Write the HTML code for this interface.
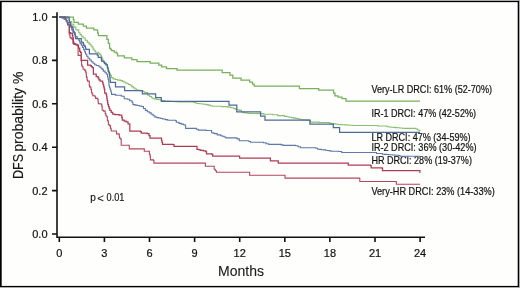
<!DOCTYPE html>
<html><head><meta charset="utf-8">
<style>
html,body{margin:0;padding:0;background:#aaa;width:520px;height:288px;overflow:hidden}
svg{display:block;will-change:transform;font-family:"Liberation Sans",sans-serif}
</style></head>
<body>
<svg width="520" height="288" viewBox="0 0 520 288">
<rect x="0" y="0" width="520" height="288" fill="#aaa"/><rect x="0" y="1" width="519" height="286" fill="#000"/><rect x="1.7" y="2.15" width="516" height="283.75" fill="#fefefd"/>
<g stroke="#111" stroke-width="1.6" fill="none">
<path d="M57 12.3V237.2H425"/>
<path d="M52 17H57M52 60.4H57M52 103.8H57M52 147.2H57M52 190.6H57M52 234H57"/>
<path d="M59.3 237V242M104.4 237V242M149.5 237V242M194.6 237V242M239.7 237V242M284.8 237V242M329.9 237V242M375 237V242M420.1 237V242"/>
</g>
<g font-size="11" fill="#111" stroke="#111" stroke-width="0.2" text-anchor="end">
<text x="47.5" y="21">1.0</text>
<text x="47.5" y="64.4">0.8</text>
<text x="47.5" y="107.8">0.6</text>
<text x="47.5" y="151.2">0.4</text>
<text x="47.5" y="194.6">0.2</text>
<text x="47.5" y="238">0.0</text>
</g>
<g font-size="11" fill="#111" stroke="#111" stroke-width="0.2" text-anchor="middle">
<text x="59.3" y="256.5">0</text>
<text x="104.4" y="256.5">3</text>
<text x="149.5" y="256.5">6</text>
<text x="194.6" y="256.5">9</text>
<text x="239.7" y="256.5">12</text>
<text x="284.8" y="256.5">15</text>
<text x="329.9" y="256.5">18</text>
<text x="375" y="256.5">21</text>
<text x="420.1" y="256.5">24</text>
</g>
<text x="241" y="276.2" font-size="14" fill="#1a1a1a" stroke="#1a1a1a" stroke-width="0.1" text-anchor="middle">Months</text>
<g transform="translate(23.3,0) rotate(-90)" font-size="15.5" fill="#1a1a1a" stroke="#1a1a1a" stroke-width="0.15"><text x="-178.9" y="0" textLength="24.9" lengthAdjust="spacingAndGlyphs">DFS</text><text x="-151.7" y="0" textLength="80" lengthAdjust="spacingAndGlyphs">probability %</text></g>
<g fill="#111" stroke="#111" stroke-width="0.15"><text x="90.3" y="201.3" font-size="10">p</text><text x="97.3" y="201.9" font-size="11.5" stroke-width="0.05" textLength="6.6" lengthAdjust="spacingAndGlyphs">&lt;</text><text x="106.6" y="201.3" font-size="10" textLength="17.8" lengthAdjust="spacingAndGlyphs">0.01</text></g>
<g font-size="10.4" fill="#111" stroke="#111" stroke-width="0.2">
<text x="371.4" y="93.2" textLength="120.6" lengthAdjust="spacingAndGlyphs">Very-LR DRCI: 61% (52-70%)</text>
<text x="371.4" y="117.2" textLength="104.6" lengthAdjust="spacingAndGlyphs">IR-1 DRCI: 47% (42-52%)</text>
<text x="371.4" y="141.3" textLength="99.2" lengthAdjust="spacingAndGlyphs">LR DRCI: 47% (34-59%)</text>
<text x="371.4" y="151.2" textLength="105.1" lengthAdjust="spacingAndGlyphs">IR-2 DRCI: 36% (30-42%)</text>
<text x="371.4" y="164.2" textLength="100.5" lengthAdjust="spacingAndGlyphs">HR DRCI: 28% (19-37%)</text>
<text x="371.4" y="195.3" textLength="123.4" lengthAdjust="spacingAndGlyphs">Very-HR DRCI: 23% (14-33%)</text>
</g>
<g fill="none" stroke-linejoin="miter" stroke-linecap="butt">
<path stroke="#78b05a" stroke-width="1.25" d="M59.1 17.0H73.4V19.5H74.0V22.4H78.3V24.0H83.3V26.1H86.4V28.2H93.8V29.8H97.6V33.2H98.4V35.5H106.9V39.3H108.3V43.3H109.6V48.4H110.8V49.5H111.6V50.5H114.2V52.2H116.3V53.2H117.5V55.8H124.4V57.8H131.8V59.6H137.0V61.5H150.2V63.0H158.8V65.0H161.7V66.8H166.5V68.7H177.0V70.2H222.2V72.7H229.9V75.0H232.8V78.1H241.0V80.2H249.7V82.1H252.5V84.0H254.2V86.0H299.4V88.5H318.7V90.2H333.6V93.1H335.0V95.8H338.0V97.2H342.0V98.6H346.0V101.2H420.0"/>
<path stroke="#8ac070" stroke-width="1.1" d="M59.1 17.0H66.5H67.6V18.8H69.6V21.6H71.7V24.3H73.8V27.1H75.9V29.9H78.7V32.7H80.0V34.6H81.5V36.3H83.0V38.0H85.2V40.2H87.4V42.4H89.1V44.1H90.8V45.8H91.9V46.9H93.0V49.1H94.1V50.8H95.5V52.2H98.3V53.3H99.7V54.4H100.8V55.6H101.3V57.2H102.2V59.4H103.0V61.1H103.6V62.8H105.8V65.0H107.6V67.6H108.3V70.0H108.8V71.8H109.2V73.7H110.3V75.3H111.4V77.6H113.1V78.9H115.3V79.5H117.6V80.1H120.8V80.6H122.4V81.4H124.0V82.2H125.5V83.0H127.1V83.8H128.6V84.5H130.2V85.3H131.8V86.6H133.3V87.9H134.9V89.0H136.5V90.0H138.2V90.3H140.0V90.7H141.7V91.0H143.2V91.8H144.8V92.6H147.7V95.2H149.6V96.5H151.5V97.7H153.0V98.8H154.9V99.1H156.9V99.5H158.8V99.8H160.7V100.2H162.7V100.6H164.6V101.0H166.5V101.1H168.4V101.2H170.4V101.4H172.3V101.5H174.2V101.6H176.2V101.8H178.1V101.9H180.0V102.0H193.8V102.5H195.4V103.0H197.0V103.5H199.2V103.8H201.5V104.0H203.8V104.3H206.0V104.6H208.1V105.1H210.2V105.7H212.3V106.2H221.5V106.6H227.7V107.1H230.8V107.7H233.8V108.6H235.4V109.2H237.0V109.7H239.0V110.4H241.5V112.3H243.4V112.6H245.3V112.9H247.3V113.2H249.2V113.5H256.9V113.6H263.8V114.2H272.5V114.7H277.7V115.6H284.6V116.4H286.9V116.8H289.2V117.2H291.5V117.6H293.8V118.1H296.1V118.5H298.4V119.0H300.1V119.5H301.9V119.9H308.8V120.4H310.6V122.1H319.2V122.5H329.6V123.2H331.7V123.6H333.9V123.9H336.0V124.3H338.1V124.5H340.2V124.6H342.4V124.8H344.5V124.9H346.6V125.0H348.8V125.2H350.9V125.3H353.0V125.5H378.0V126.0H387.0V126.8H389.1V127.0H391.2V127.2H393.4V127.4H395.5V127.6H397.6V127.8H399.8V128.0H401.9V128.2H404.0V128.4H416.0V129.0H417.5V129.8H419.0V130.7H420.0V131.0"/>
<path stroke="#b2465f" stroke-width="1.1" d="M59.1 17.0H65.0V19.0H66.4V21.1H67.3V22.8H67.8V24.8H69.3V35.0H70.1V37.6H71.2V38.7H72.3V39.4H73.0V43.5H75.5V44.8H77.2V45.6H78.1V55.4H81.2V61.2H81.6V65.1H82.1V66.8H83.1V69.3H84.8V70.4H85.6V72.1H86.2V74.3H86.4V77.1H87.1V80.0H87.6V81.1H89.3V81.7V85.6H89.6V86.9H90.7V87.5H90.9V89.4H91.5V92.8H92.2V94.0H92.8V95.7H95.0V96.8H95.6V98.4H97.8V99.6H98.1V101.8H98.3V103.7H101.1V104.3H101.7V106.2H102.2V110.2H103.6V111.1H104.9V111.3H105.2V113.6H105.8V115.2H106.3V116.3H107.2V117.4H107.4V120.8H108.3V122.4H108.4V124.8H109.6V125.6H110.4V128.1H110.9V128.7H111.2V131.0H116.5V133.9H119.0V134.2H119.3V136.0H119.6V138.2H120.7V139.3H121.2V141.0V145.3H129.3V148.9H144.3V151.2H149.0H149.4V154.3H150.1V156.4H150.4V159.9H153.5V160.6H153.9V163.1H205.4V166.2H213.8H214.2V169.2H215.3V170.8H216.5V172.3H249.0H249.6V175.3H284.5H285.0V178.1H359.3V178.3H359.8V181.5H396.0V181.7H396.4V184.3H420.0"/>
<path stroke="#ad3c57" stroke-width="1.25" d="M59.1 17.0H65.0V19.0H66.4V21.1H67.3V22.8H67.8V24.8H69.3V32.5H70.5V33.4H72.4V35.3H72.8V37.5H73.3V42.0H73.9V44.3H77.2V45.0H78.5V48.0H79.7V51.4H80.6V52.6H81.3V60.4H87.6V65.2H90.4V65.6H91.3V66.5H92.3V67.7H93.4V74.0H96.2V76.6H98.1V78.2H98.9V79.9H100.2V81.0H102.1V81.1H102.6V82.9H103.1V84.8H103.7V86.9H104.2V89.0H104.7V93.1H106.2V94.7H106.6V96.7H106.9V98.7H107.2V100.6H107.6V102.6H107.9V104.6H108.5V106.5H109.2V108.5H109.8V110.4H111.2V112.3H112.7V114.2H114.8V114.5H117.0V114.7H119.2V115.0H121.3V115.2H121.8V117.6H122.3V120.0H124.2V121.0H126.2V121.9H128.0V123.8H129.8V125.8V131.2H140.4V131.7H141.3V133.1H147.1V133.7H149.0V135.6H150.0V138.1H159.6H161.5V140.4H162.0V142.4H162.5V144.4H173.1V144.6H174.0V146.3H196.2H197.0V149.4H198.9V149.9H200.8V150.4H203.3V150.9H205.8V151.5H206.5V153.8H211.9V154.3H212.7V156.2H239.2H239.6V158.2H269.8H270.4V160.8H277.5H278.3V163.0H347.8H348.3V165.2H370.6V165.5H371.2V167.8H382.0V168.0H382.5V170.5H419.4V170.6H419.9V173.0"/>
<path stroke="#5f7aa8" stroke-width="1.1" d="M59.1 17.0H61.5H62.0V18.1H64.1V19.5H66.2V20.9H67.6V22.6H68.9V24.3H70.3V27.1H71.7V29.9H73.1V32.7H74.5V34.8H75.5V36.6H77.2V38.8H78.9V40.4H79.6V42.0H80.2V43.6H81.3V45.2H82.4V47.4H83.6V49.7H84.7V51.9H85.5V54.0H86.7V56.3H88.0V58.3H89.7V60.0H91.3V61.7H93.0V63.3H94.7V64.7H96.3V65.5H99.0V66.7H100.0V67.2H101.1V68.3H102.2V69.4H103.3V71.1H105.0V72.8H106.4V74.2H107.6V77.0H108.1V79.2H108.7V82.0H109.0V86.0H109.6V87.7H110.1V89.3H110.7V91.0H111.2V92.7H111.5V94.4H115.1V94.6H115.7V95.3H120.1H121.2V96.0H122.0V96.3H124.2V98.8H127.2V99.2H129.6V100.7H132.0V102.2H132.9V104.6H135.1V105.1H137.2V105.5H139.3V106.0H141.5V106.5H143.4V108.5H145.4V110.4H147.3V111.7H149.3V112.9H151.2V114.2H153.1V115.7H155.0V117.1H156.9V117.6H158.8V118.0H160.8V118.5H162.7V119.0H165.2V119.6H167.7V120.2H175.7V120.6H176.3V122.3H179.0V123.4H181.2V124.1H183.5V124.8H185.2V125.8H185.6V128.4H193.8H196.4V129.2H198.2V130.1H206.0V130.5H211.3V130.6H211.6V132.7H213.1V133.1H214.6V133.6H217.2V134.9H220.7V135.7H222.4V136.3H224.1V137.0H225.8V137.9H235.0H237.1V138.9H239.3V140.7H247.1H248.8V141.5H250.5V142.2H260.9H263.5V142.8H266.1V143.7H268.7V144.4H279.2H281.1V144.9H283.1V145.4H295.6V145.8H298.0V146.8H300.4V147.7H315.8V148.3H317.7V149.2H319.6V149.4H321.5V149.7H323.5V149.9H325.4V150.2H327.3V150.5H329.3V150.9H331.2V151.2H338.8V151.5H341.7V152.5H373.9H376.5V153.5H382.5V154.2H384.6V154.4H386.6V154.5H388.7V154.7H390.8V154.8H392.8V155.0H394.9V155.2H396.9V155.3H399.0V155.5H400.0V156.2H420.0"/>
<path stroke="#4e6a98" stroke-width="1.25" d="M59.1 17.0H68.8H69.1V20.3H69.3V22.3H70.3V25.0H71.1V26.0H72.2V27.7H73.0V29.9H73.3V31.6H74.2V32.7H75.0V34.3H75.3V36.6H75.6V38.5H81.3V42.0H82.7V42.6H83.3V43.8H83.7V45.4H84.7V46.4H85.5V48.0H85.8V49.4H89.4V53.8H97.3V55.0H98.2V57.3H101.4V60.2H101.8V61.4H104.1V62.2H104.6V63.6H106.1V64.6H107.2V66.3H107.5V68.3H108.1V71.1H108.9V72.6H109.5V75.3H109.8V77.6H110.1V80.3H110.3V82.4H115.5V86.8H124.6V90.5H142.4V93.8H155.6V97.7H161.3V101.3H229.0V105.1H236.8V111.8H260.6V116.2H265.0V120.2H309.9V124.0H333.3V127.6H339.6V132.4H420.0"/>
</g>
</svg>
</body></html>
